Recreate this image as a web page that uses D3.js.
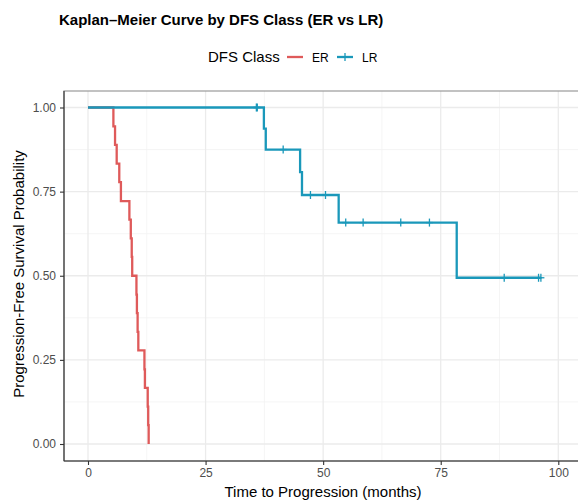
<!DOCTYPE html>
<html>
<head>
  <meta charset="utf-8">
  <title>Kaplan-Meier Curve by DFS Class</title>
  <script src="https://cdn.jsdelivr.net/npm/d3@7/dist/d3.min.js"></script>
  <style>
    body { margin: 0; background: #fff; }
    text { font-family: "Liberation Sans", Arial, sans-serif; }
  </style>
</head>
<body>
  <div id="chart"></div>
  <script>
    // step data
    const erTime = [0, 5.4, 5.75, 6.1, 6.65, 7.0, 8.8, 9.1, 9.3, 9.4, 10.3, 10.4, 10.55, 10.7, 12.0, 12.1, 12.7, 12.8, 12.9];
    const erSurv = [1, 0.944, 0.889, 0.833, 0.778, 0.722, 0.667, 0.611, 0.556, 0.5, 0.444, 0.389, 0.333, 0.278, 0.222, 0.167, 0.111, 0.056, 0];

    const lrTime = [0, 37.4, 37.8, 45.1, 45.5, 53.3, 78.4, 96.3];
    const lrSurv = [1, 0.9375, 0.875, 0.808, 0.740, 0.658, 0.494, 0.494];
    const lrCensorTime = [35.8, 36.0, 41.5, 47.3, 50.5, 54.8, 58.5, 66.5, 72.6, 88.5, 95.8, 96.3];
    const lrCensorSurv = [1, 1, 0.875, 0.740, 0.740, 0.658, 0.658, 0.658, 0.658, 0.494, 0.494, 0.494];

    const xTicks = [0, 25, 50, 75, 100];
    const yTicks = [0, 0.25, 0.5, 0.75, 1];
    const groups = ['ER', 'LR'];
    const colors = ['#DF5A5A', '#1A98BA'];

    const width = 578, height = 501;
    const panel = { left: 64, top: 91, right: 582, bottom: 461 };

    const svg = d3.select('#chart').append('svg')
      .attr('width', width).attr('height', height);

    const x = d3.scaleLinear().domain([0, 100]).range([88, 558.3]);
    const y = d3.scaleLinear().domain([0, 1]).range([444, 107.5]);

    // grid
    const g = svg.append('g');
    const xMinor = xTicks.slice(0, -1).map(d => d + 12.5);
    const yMinor = yTicks.slice(0, -1).map(d => d + 0.125);
    g.selectAll('.xminor').data(xMinor).join('line')
      .attr('x1', d => x(d)).attr('x2', d => x(d))
      .attr('y1', panel.top).attr('y2', panel.bottom)
      .attr('stroke', '#f3f3f3').attr('stroke-width', 0.8);
    g.selectAll('.yminor').data(yMinor).join('line')
      .attr('y1', d => y(d)).attr('y2', d => y(d))
      .attr('x1', panel.left).attr('x2', panel.right)
      .attr('stroke', '#f3f3f3').attr('stroke-width', 0.8);
    g.selectAll('.xmajor').data(xTicks).join('line')
      .attr('x1', d => x(d)).attr('x2', d => x(d))
      .attr('y1', panel.top).attr('y2', panel.bottom)
      .attr('stroke', '#ebebeb').attr('stroke-width', 1.3);
    g.selectAll('.ymajor').data(yTicks).join('line')
      .attr('y1', d => y(d)).attr('y2', d => y(d))
      .attr('x1', panel.left).attr('x2', panel.right)
      .attr('stroke', '#ebebeb').attr('stroke-width', 1.3);

    // panel border
    svg.append('rect')
      .attr('x', panel.left).attr('y', panel.top)
      .attr('width', panel.right - panel.left).attr('height', panel.bottom - panel.top)
      .attr('fill', 'none').attr('stroke', '#9a9a9a').attr('stroke-width', 1.2);

    // curves
    const step = d3.line().x(d => x(d[0])).y(d => y(d[1])).curve(d3.curveStepAfter);
    const erData = erTime.map((t, i) => [t, erSurv[i]]);
    const lrData = lrTime.map((t, i) => [t, lrSurv[i]]);

    svg.append('path').datum(erData).attr('d', step)
      .attr('fill', 'none').attr('stroke', colors[0]).attr('stroke-width', 2.3);
    svg.append('path').datum(lrData).attr('d', step)
      .attr('fill', 'none').attr('stroke', colors[1]).attr('stroke-width', 2.3);

    // censor marks
    const cens = svg.append('g');
    lrCensorTime.forEach((t, i) => {
      cens.append('line')
        .attr('x1', x(t)).attr('x2', x(t))
        .attr('y1', y(lrCensorSurv[i]) - 4).attr('y2', y(lrCensorSurv[i]) + 4)
        .attr('stroke', colors[1]).attr('stroke-width', 1.3);
      cens.append('line')
        .attr('x1', x(t) - 3.5).attr('x2', x(t) + 3.5)
        .attr('y1', y(lrCensorSurv[i])).attr('y2', y(lrCensorSurv[i]))
        .attr('stroke', colors[1]).attr('stroke-width', 1.3);
    });

    // axes
    const xAxis = svg.append('g').attr('transform', `translate(0,${panel.bottom})`)
      .call(d3.axisBottom(x).tickValues(xTicks).tickSize(4).tickPadding(3).tickFormat(d3.format('d')));
    const yAxis = svg.append('g').attr('transform', `translate(${panel.left},0)`)
      .call(d3.axisLeft(y).tickValues(yTicks).tickSize(4).tickPadding(4).tickFormat(d3.format('.2f')));
    [xAxis, yAxis].forEach(a => {
      a.select('.domain').remove();
      a.selectAll('.tick line').attr('stroke', '#333').attr('stroke-width', 1.1);
      a.selectAll('.tick text').attr('fill', '#4d4d4d').style('font-size', '12px');
    });
    svg.append('line')
      .attr('x1', panel.left).attr('x2', panel.left)
      .attr('y1', panel.top).attr('y2', panel.bottom)
      .attr('stroke', '#333').attr('stroke-width', 1.1);
    svg.append('line')
      .attr('x1', panel.left).attr('x2', panel.right)
      .attr('y1', panel.bottom).attr('y2', panel.bottom)
      .attr('stroke', '#333').attr('stroke-width', 1.1);

    // titles
    svg.append('text').attr('x', 59).attr('y', 25)
      .style('font-size', '15px').style('font-weight', 'bold').attr('fill', '#000')
      .text('Kaplan–Meier Curve by DFS Class (ER vs LR)');
    svg.append('text').attr('x', 323).attr('y', 497).attr('text-anchor', 'middle')
      .style('font-size', '15px').attr('fill', '#000')
      .text('Time to Progression (months)');
    svg.append('text').attr('transform', 'translate(24,274) rotate(-90)').attr('text-anchor', 'middle')
      .style('font-size', '15px').attr('fill', '#000')
      .text('Progression-Free Survival Probability');

    // legend
    const lg = svg.append('g');
    lg.append('text').attr('x', 208).attr('y', 62)
      .style('font-size', '15px').attr('fill', '#000').text('DFS Class');
    const keyX = [287, 337];
    groups.forEach((grp, i) => {
      lg.append('line').attr('x1', keyX[i]).attr('x2', keyX[i] + 16)
        .attr('y1', 57).attr('y2', 57)
        .attr('stroke', colors[i]).attr('stroke-width', 2.3);
      if (grp === 'LR') {
        lg.append('line').attr('x1', keyX[i] + 8).attr('x2', keyX[i] + 8)
          .attr('y1', 53).attr('y2', 61)
          .attr('stroke', colors[i]).attr('stroke-width', 1.3);
      }
      lg.append('text').attr('x', keyX[i] + 25).attr('y', 61.5)
        .style('font-size', '12px').attr('fill', '#000').text(grp);
    });
  </script>
</body>
</html>
